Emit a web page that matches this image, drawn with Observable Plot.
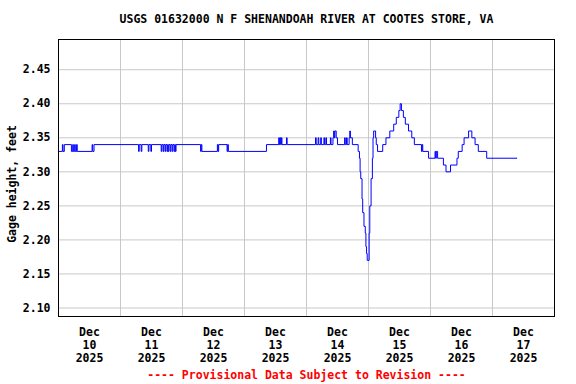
<!DOCTYPE html>
<html>
<head>
<meta charset="utf-8">
<script src="https://cdn.jsdelivr.net/npm/d3@7"></script>
<script src="https://cdn.jsdelivr.net/npm/@observablehq/plot@0.6"></script>
<style>
  html, body { margin: 0; padding: 0; background: #fff; }
</style>
</head>
<body>
<div id="chart"></div>
<script>
const titleText = "USGS 01632000 N F SHENANDOAH RIVER AT COOTES STORE, VA";
const captionText = "---- Provisional Data Subject to Revision ----";
const yLabel = "Gage height, feet";

// Change points of the 15-minute gage record (time, value in feet), year 2025, UTC-like clock
const stamps = [
  "12-10 00:00","12-10 01:30","12-10 01:45","12-10 02:15","12-10 05:00","12-10 05:30","12-10 05:45","12-10 06:15",
  "12-10 06:30","12-10 07:00","12-10 07:15","12-10 13:00","12-10 13:15","12-10 13:45",
  "12-11 07:00","12-11 07:15","12-11 08:00","12-11 08:15","12-11 10:45","12-11 11:00","12-11 11:45","12-11 12:00",
  "12-11 15:45","12-11 16:00","12-11 16:30","12-11 16:45","12-11 17:15","12-11 17:30","12-11 18:00","12-11 18:15",
  "12-11 18:30","12-11 18:45","12-11 19:15","12-11 19:30","12-11 20:00","12-11 20:15","12-11 20:45","12-11 21:00",
  "12-11 21:15","12-11 21:30",
  "12-12 07:00","12-12 07:15","12-12 07:30","12-12 13:30","12-12 13:45","12-12 14:00","12-12 17:15","12-12 17:30","12-12 17:45",
  "12-13 08:30","12-13 13:15","12-13 13:30","12-13 13:45","12-13 14:00","12-13 14:15","12-13 14:30","12-13 16:15","12-13 16:30",
  "12-14 03:30","12-14 03:45","12-14 04:30","12-14 04:45","12-14 05:30","12-14 05:45","12-14 06:45","12-14 07:00",
  "12-14 07:30","12-14 07:45","12-14 09:15","12-14 09:30","12-14 10:15","12-14 10:30","12-14 10:45","12-14 11:00",
  "12-14 11:30","12-14 12:00","12-14 14:45","12-14 15:00","12-14 15:30","12-14 15:45","12-14 16:30","12-14 16:45",
  "12-14 17:00","12-14 17:45","12-14 20:00","12-14 20:30","12-14 20:45","12-14 21:00","12-14 21:30","12-14 21:45",
  "12-14 22:15","12-14 22:45","12-14 23:00","12-14 23:15","12-14 23:30",
  "12-15 00:15","12-15 00:30","12-15 01:00","12-15 01:30","12-15 01:45","12-15 02:00","12-15 02:45","12-15 03:00",
  "12-15 03:30","12-15 05:30","12-15 06:45","12-15 08:15","12-15 09:45","12-15 10:45","12-15 11:45","12-15 12:15",
  "12-15 12:45","12-15 13:30","12-15 14:15","12-15 15:30","12-15 16:45","12-15 17:45","12-15 20:30","12-15 20:45",
  "12-15 21:00","12-15 23:15",
  "12-16 01:45","12-16 02:00","12-16 02:15","12-16 02:45","12-16 05:00","12-16 06:00","12-16 07:45","12-16 10:15",
  "12-16 10:45","12-16 12:15","12-16 13:00","12-16 14:45","12-16 16:00","12-16 17:15","12-16 18:30","12-16 21:45",
  "12-17 09:30"
];
const gage = [
  2.33,2.34,2.33,2.34,2.33,2.34,2.33,2.34,
  2.33,2.34,2.33,2.34,2.33,2.34,
  2.33,2.34,2.33,2.34,2.33,2.34,2.33,2.34,
  2.33,2.34,2.33,2.34,2.33,2.34,2.33,2.34,
  2.33,2.34,2.33,2.34,2.33,2.34,2.33,2.34,
  2.33,2.34,
  2.33,2.34,2.33,2.34,2.33,2.34,2.33,2.34,2.33,
  2.34,2.35,2.34,2.35,2.34,2.35,2.34,2.35,2.34,
  2.35,2.34,2.35,2.34,2.35,2.34,2.35,2.34,
  2.35,2.34,2.35,2.34,2.35,2.36,2.35,2.36,
  2.35,2.34,2.35,2.34,2.35,2.34,2.35,2.36,
  2.35,2.34,2.33,2.32,2.30,2.29,2.26,2.24,
  2.22,2.21,2.19,2.18,2.17,
  2.21,2.25,2.29,2.32,2.35,2.36,2.35,2.34,
  2.33,2.34,2.35,2.36,2.37,2.38,2.39,2.40,
  2.39,2.38,2.37,2.36,2.35,2.34,2.33,2.34,
  2.33,2.32,
  2.33,2.32,2.33,2.32,2.31,2.30,2.31,2.32,
  2.33,2.34,2.35,2.36,2.35,2.34,2.33,2.32,
  2.32
];

const yTicks = [2.10, 2.15, 2.20, 2.25, 2.30, 2.35, 2.40, 2.45];
const xDays = ["10","11","12","13","14","15","16","17"];
const xMonth = "Dec";
const xYear = "2025";
const gridDays = ["11","12","13","14","15","16","17"];

const parse = s => new Date("2025-" + s.replace(" ", "T") + ":00Z");
const data = stamps.map((s, i) => ({t: parse(s), v: gage[i]}));

const noonTicks = xDays.map(d => new Date(`2025-12-${d}T12:00:00Z`));
const tickLabel = new Map(noonTicks.map((d, i) => [+d, `${xMonth}\n${xDays[i]}\n${xYear}`]));
const midnights = gridDays.map(d => new Date(`2025-12-${d}T00:00:00Z`));

const chart = Plot.plot({
  width: 576,
  height: 384,
  marginLeft: 58,
  marginRight: 22,
  marginTop: 39,
  marginBottom: 68,
  style: {fontFamily: "'DejaVu Sans Mono', monospace", fontSize: "11.5px", fontWeight: "bold", background: "white", color: "black"},
  x: {type: "utc", domain: [new Date("2025-12-10T00:00:00Z"), new Date("2025-12-18T00:00:00Z")]},
  y: {domain: [2.0875, 2.4944]},
  marks: [
    Plot.gridX(midnights, {stroke: "#c8c8c8", strokeOpacity: 1}),
    Plot.gridY(yTicks, {stroke: "#c8c8c8", strokeOpacity: 1}),
    Plot.line(data, {x: "t", y: "v", curve: "step-after", stroke: "#0000ff", strokeWidth: 1}),
    Plot.frame({stroke: "black", strokeWidth: 1}),
    Plot.axisX(noonTicks, {tickSize: 0, tickPadding: 10, tickFormat: d => tickLabel.get(+d), lineHeight: 1.13, label: null}),
    Plot.axisY(yTicks, {tickSize: 0, tickPadding: 8, tickFormat: d3.format(".2f"), label: null}),
    Plot.text([titleText], {frameAnchor: "top", textAnchor: "middle", lineAnchor: "middle", dy: -20}),
    Plot.text([captionText], {frameAnchor: "bottom", textAnchor: "middle", lineAnchor: "middle", dy: 59, fill: "red"}),
    Plot.text([yLabel], {frameAnchor: "left", textAnchor: "middle", lineAnchor: "middle", rotate: -90, dx: -46, dy: 6})
  ]
});
document.getElementById("chart").appendChild(chart);
</script>
</body>
</html>
